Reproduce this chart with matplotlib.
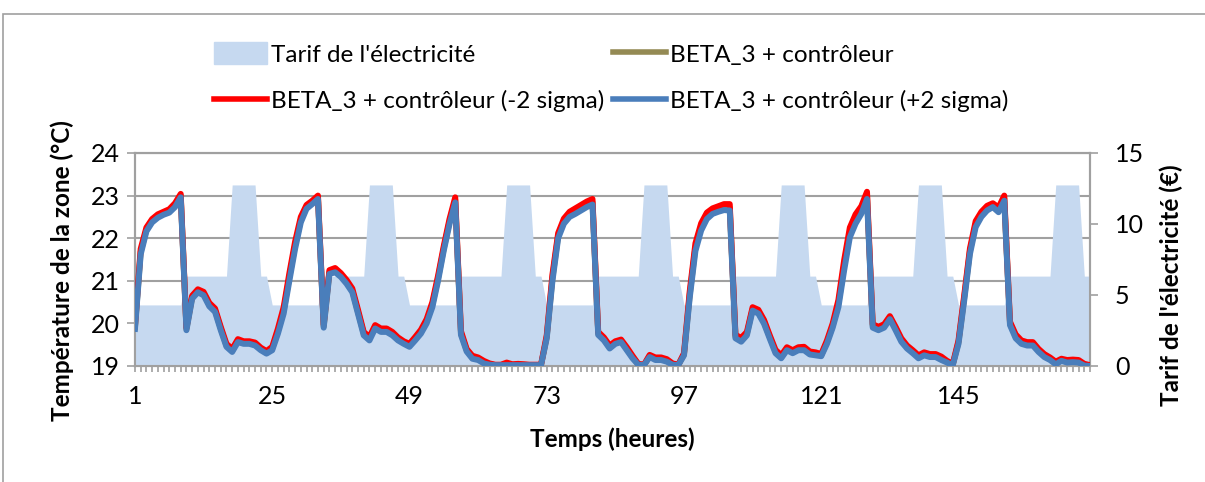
import numpy as np
import matplotlib
matplotlib.use("Agg")
import matplotlib.pyplot as plt
from matplotlib.patches import Patch, Rectangle
from matplotlib.lines import Line2D

plt.rcParams['font.family'] = ['Lato', 'DejaVu Sans']

# hours 1..168
heures = np.arange(1, 169)
x_labels = [1, 25, 49, 73, 97, 121, 145]

# electricity tariff (right axis)
tarif = [
    4.3, 4.3, 4.3, 4.3, 4.3, 4.3, 4.3, 4.3, 4.3, 6.33, 6.33, 6.33, 6.33, 6.33, 6.33, 6.33, 6.33, 12.75, 12.75, 12.75, 12.75, 12.75, 6.33, 6.33,
    4.3, 4.3, 4.3, 4.3, 4.3, 4.3, 4.3, 4.3, 4.3, 6.33, 6.33, 6.33, 6.33, 6.33, 6.33, 6.33, 6.33, 12.75, 12.75, 12.75, 12.75, 12.75, 6.33, 6.33,
    4.3, 4.3, 4.3, 4.3, 4.3, 4.3, 4.3, 4.3, 4.3, 6.33, 6.33, 6.33, 6.33, 6.33, 6.33, 6.33, 6.33, 12.75, 12.75, 12.75, 12.75, 12.75, 6.33, 6.33,
    4.3, 4.3, 4.3, 4.3, 4.3, 4.3, 4.3, 4.3, 4.3, 6.33, 6.33, 6.33, 6.33, 6.33, 6.33, 6.33, 6.33, 12.75, 12.75, 12.75, 12.75, 12.75, 6.33, 6.33,
    4.3, 4.3, 4.3, 4.3, 4.3, 4.3, 4.3, 4.3, 4.3, 6.33, 6.33, 6.33, 6.33, 6.33, 6.33, 6.33, 6.33, 12.75, 12.75, 12.75, 12.75, 12.75, 6.33, 6.33,
    4.3, 4.3, 4.3, 4.3, 4.3, 4.3, 4.3, 4.3, 4.3, 6.33, 6.33, 6.33, 6.33, 6.33, 6.33, 6.33, 6.33, 12.75, 12.75, 12.75, 12.75, 12.75, 6.33, 6.33,
    4.3, 4.3, 4.3, 4.3, 4.3, 4.3, 4.3, 4.3, 4.3, 6.33, 6.33, 6.33, 6.33, 6.33, 6.33, 6.33, 6.33, 12.75, 12.75, 12.75, 12.75, 12.75, 6.33, 6.33,
]

# BETA_3 + contrôleur
beta3 = [
    19.91, 21.68, 22.20, 22.41, 22.52, 22.58, 22.64, 22.77, 23.00, 19.87, 20.61, 20.76, 20.70, 20.44, 20.31, 19.88, 19.48, 19.36, 19.60, 19.55, 19.55, 19.51, 19.40, 19.32,
    19.41, 19.82, 20.30, 21.09, 21.83, 22.43, 22.73, 22.84, 22.96, 19.93, 21.20, 21.25, 21.13, 20.97, 20.77, 20.27, 19.76, 19.64, 19.92, 19.84, 19.84, 19.76, 19.63, 19.55,
    19.48, 19.64, 19.80, 20.05, 20.44, 21.06, 21.76, 22.39, 22.90, 19.77, 19.37, 19.20, 19.17, 19.09, 19.04, 19.02, 19.02, 19.05, 19.03, 19.03, 19.03, 19.02, 19.02, 19.02,
    19.68, 21.07, 22.06, 22.40, 22.56, 22.63, 22.71, 22.79, 22.85, 19.76, 19.63, 19.44, 19.55, 19.59, 19.40, 19.21, 19.04, 19.02, 19.23, 19.17, 19.17, 19.13, 19.04, 19.02,
    19.27, 20.67, 21.79, 22.26, 22.52, 22.63, 22.68, 22.73, 22.72, 19.69, 19.61, 19.76, 20.34, 20.27, 20.03, 19.68, 19.34, 19.21, 19.40, 19.33, 19.40, 19.41, 19.30, 19.28,
    19.25, 19.56, 19.95, 20.46, 21.36, 22.13, 22.45, 22.66, 23.00, 19.94, 19.88, 19.94, 20.13, 19.88, 19.61, 19.44, 19.33, 19.21, 19.28, 19.24, 19.24, 19.18, 19.10, 19.03,
    19.56, 20.60, 21.70, 22.33, 22.56, 22.70, 22.77, 22.66, 22.94, 20.00, 19.69, 19.56, 19.52, 19.52, 19.36, 19.24, 19.17, 19.07, 19.14, 19.11, 19.12, 19.11, 19.03, 19.01,
]

# BETA_3 + contrôleur (-2 sigma)
beta3_moins = [
    19.95, 21.75, 22.25, 22.45, 22.56, 22.62, 22.68, 22.82, 23.04, 19.90, 20.65, 20.80, 20.74, 20.48, 20.35, 19.92, 19.52, 19.40, 19.63, 19.58, 19.58, 19.55, 19.43, 19.35,
    19.45, 19.88, 20.38, 21.18, 21.92, 22.50, 22.78, 22.88, 23.00, 19.97, 21.25, 21.30, 21.18, 21.02, 20.82, 20.32, 19.80, 19.68, 19.96, 19.88, 19.88, 19.80, 19.67, 19.58,
    19.52, 19.68, 19.85, 20.10, 20.50, 21.12, 21.82, 22.45, 22.96, 19.82, 19.40, 19.24, 19.20, 19.12, 19.06, 19.03, 19.03, 19.08, 19.04, 19.05, 19.04, 19.03, 19.03, 19.03,
    19.72, 21.15, 22.12, 22.46, 22.62, 22.70, 22.78, 22.86, 22.92, 19.80, 19.67, 19.48, 19.58, 19.62, 19.44, 19.24, 19.05, 19.03, 19.26, 19.20, 19.20, 19.16, 19.06, 19.03,
    19.30, 20.75, 21.88, 22.35, 22.60, 22.70, 22.75, 22.80, 22.80, 19.73, 19.66, 19.80, 20.38, 20.32, 20.08, 19.72, 19.38, 19.25, 19.44, 19.37, 19.44, 19.45, 19.34, 19.32,
    19.28, 19.60, 20.00, 20.55, 21.48, 22.25, 22.56, 22.75, 23.09, 19.98, 19.92, 19.98, 20.17, 19.92, 19.65, 19.48, 19.37, 19.25, 19.32, 19.28, 19.28, 19.22, 19.12, 19.05,
    19.60, 20.66, 21.76, 22.40, 22.62, 22.76, 22.82, 22.72, 23.00, 20.04, 19.74, 19.60, 19.56, 19.56, 19.40, 19.28, 19.20, 19.10, 19.17, 19.14, 19.15, 19.14, 19.05, 19.02,
]

# BETA_3 + contrôleur (+2 sigma)
beta3_plus = [
    19.87, 21.62, 22.16, 22.37, 22.48, 22.55, 22.60, 22.73, 22.96, 19.84, 20.58, 20.73, 20.66, 20.40, 20.27, 19.84, 19.45, 19.33, 19.56, 19.52, 19.52, 19.48, 19.37, 19.29,
    19.37, 19.76, 20.23, 21.00, 21.75, 22.37, 22.69, 22.80, 22.92, 19.90, 21.16, 21.20, 21.09, 20.93, 20.73, 20.23, 19.72, 19.60, 19.88, 19.80, 19.80, 19.72, 19.60, 19.52,
    19.45, 19.60, 19.76, 20.00, 20.38, 21.00, 21.71, 22.33, 22.84, 19.73, 19.34, 19.17, 19.14, 19.06, 19.03, 19.02, 19.02, 19.02, 19.02, 19.02, 19.02, 19.02, 19.02, 19.02,
    19.65, 21.00, 22.00, 22.34, 22.50, 22.57, 22.65, 22.73, 22.79, 19.73, 19.60, 19.41, 19.52, 19.56, 19.37, 19.18, 19.03, 19.02, 19.21, 19.14, 19.14, 19.10, 19.03, 19.02,
    19.25, 20.60, 21.70, 22.18, 22.45, 22.57, 22.62, 22.66, 22.65, 19.65, 19.57, 19.72, 20.30, 20.23, 19.99, 19.64, 19.30, 19.18, 19.37, 19.30, 19.37, 19.37, 19.27, 19.25,
    19.23, 19.52, 19.90, 20.38, 21.24, 22.02, 22.34, 22.57, 22.92, 19.90, 19.84, 19.90, 20.10, 19.84, 19.57, 19.41, 19.30, 19.18, 19.25, 19.21, 19.21, 19.14, 19.08, 19.02,
    19.52, 20.54, 21.63, 22.26, 22.50, 22.65, 22.73, 22.61, 22.88, 19.96, 19.65, 19.52, 19.48, 19.48, 19.33, 19.21, 19.14, 19.04, 19.12, 19.08, 19.09, 19.08, 19.01, 19.00,
]

c_tarif = '#c6d9f0'
c_olive = '#948a54'
c_rouge = '#ff0000'
c_bleu = '#4a7ebb'
c_grid = '#a0a0a0'

fig = plt.figure(figsize=(12.05, 4.82), dpi=100)
pos = [0.112, 0.2407, 0.7926, 0.4419]

# temperature axis (grid, left ticks, x ticks)
ax = fig.add_axes(pos)
ax.set_xlim(1, 168)
ax.set_ylim(19, 24)
ax.set_yticks([19, 20, 21, 22, 23, 24])
ax.grid(axis='y', color=c_grid, lw=1.5)
ax.set_axisbelow(True)
ax.set_xticks(x_labels)
ax.set_xticks(heures, minor=True)
ax.tick_params(axis='x', which='both', length=4, width=1.2, color=c_grid, labelsize=18, pad=10)
ax.tick_params(axis='y', length=6, width=1.2, color=c_grid, labelsize=18, pad=5)
for s in ax.spines.values():
    s.set_color(c_grid)
    s.set_linewidth(1.5)
ax.set_xlabel('Temps (heures)', fontsize=17.5, fontweight='bold')
ax.xaxis.set_label_coords(0.5, -0.29)
ax.set_ylabel('Température de la zone (°C)', fontsize=17.5, fontweight='bold')
ax.yaxis.set_label_coords(-0.064, 0.446)

# tariff axis
ax2 = ax.twinx()
ax2.set_ylim(0, 15)
ax2.set_yticks([0, 5, 10, 15])
ax2.fill_between(heures, 0, tarif, color=c_tarif, lw=0)
ax2.tick_params(axis='y', length=6, width=1.2, color=c_grid, labelsize=18, pad=12)
for s in ax2.spines.values():
    s.set_color(c_grid)
    s.set_linewidth(1.5)
ax2.set_ylabel("Tarif de l'électricité (€)", fontsize=17.5, fontweight='bold')
ax2.yaxis.set_label_coords(1.073, 0.38)

# temperature series on top
ax3 = ax.twinx()
ax3.set_ylim(19, 24)
ax3.axis('off')
ax3.plot(heures, beta3, color=c_olive, lw=4.3, solid_joinstyle='round')
ax3.plot(heures, beta3_moins, color=c_rouge, lw=4.3, solid_joinstyle='round')
ax3.plot(heures, beta3_plus, color=c_bleu, lw=4.3, solid_joinstyle='round')

handles = [
    Patch(color=c_tarif),
    Line2D([], [], color=c_rouge, lw=4),
    Line2D([], [], color=c_olive, lw=4),
    Line2D([], [], color=c_bleu, lw=4),
]
labels = [
    "Tarif de l'électricité",
    'BETA_3 + contrôleur (-2 sigma)',
    'BETA_3 + contrôleur',
    'BETA_3 + contrôleur (+2 sigma)',
]
fig.legend(handles, labels, loc='upper left', bbox_to_anchor=(0.178, 0.912), ncol=2,
           frameon=False, fontsize=17.5, handlelength=2.18, handleheight=1.0,
           handletextpad=0.16, columnspacing=0.33, labelspacing=0.97,
           borderpad=0, borderaxespad=0)

# chart border
fig.patches.append(Rectangle((3 / 1205, -0.1), 1.2, 0.971 + 0.1, transform=fig.transFigure,
                             fill=False, edgecolor=c_grid, lw=1.2))

fig.savefig('out.png', dpi=100)
